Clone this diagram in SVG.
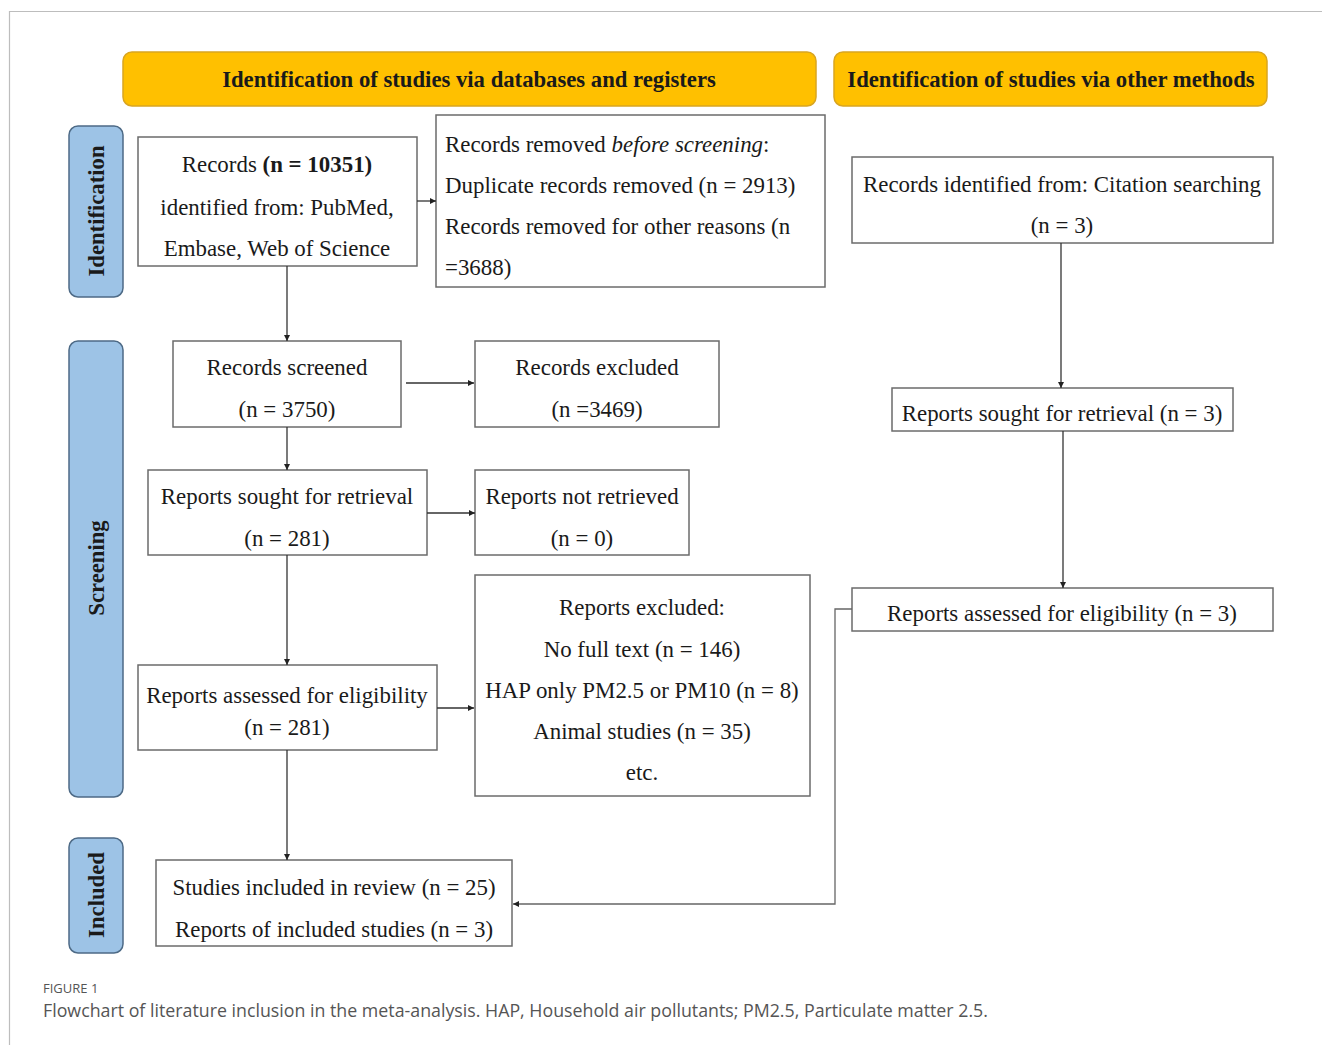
<svg xmlns="http://www.w3.org/2000/svg" width="1322" height="1045" viewBox="0 0 1322 1045">
<defs>
<style>
.bx{fill:#fff;stroke:#6b6b6b;stroke-width:1.5}
.hd{fill:#FFC000;stroke:#D9A520;stroke-width:1.5}
.sd{fill:#9DC3E6;stroke:#4d6a86;stroke-width:1.5}
.t{font-family:"Liberation Serif","Times New Roman",serif;font-size:22.9px;fill:#1a1a1a}
.c{text-anchor:middle}
.hb{font-family:"Liberation Serif","Times New Roman",serif;font-size:22.7px;font-weight:bold;fill:#1a1a1a;text-anchor:middle}
.sb{font-family:"Liberation Serif","Times New Roman",serif;font-size:22.7px;font-weight:bold;fill:#1a1a1a;text-anchor:middle}
.ln{fill:none;stroke:#333;stroke-width:1.3;marker-end:url(#ah)}
.cap{font-family:"Open Sans","Noto Sans",sans-serif;fill:#555}
</style>
<marker id="ah" viewBox="0 0 10 10" refX="10" refY="5" markerWidth="6" markerHeight="6" markerUnits="userSpaceOnUse" orient="auto">
<path d="M0,0 L10,5 L0,10 z" fill="#222"/>
</marker>
</defs>
<rect width="1322" height="1045" fill="#fff"/>
<path d="M1322,11.5 H9.5 V1045" fill="none" stroke="#bdbdbd" stroke-width="1.2"/>

<g id="hdr-db"><rect class="hd" x="123" y="52" width="693" height="54" rx="9"/><text class="hb" x="469" y="87">Identification of studies via databases and registers</text></g>
<g id="hdr-other"><rect class="hd" x="834" y="52" width="433" height="54" rx="9"/><text class="hb" x="1051" y="87">Identification of studies via other methods</text></g>

<g id="side-identification"><rect class="sd" x="69" y="126" width="54" height="171" rx="9"/><text class="sb" transform="translate(104,211) rotate(-90)">Identification</text></g>
<g id="side-screening"><rect class="sd" x="69" y="341" width="54" height="456" rx="9"/><text class="sb" transform="translate(104,568) rotate(-90)">Screening</text></g>
<g id="side-included"><rect class="sd" x="69" y="838" width="54" height="115" rx="9"/><text class="sb" transform="translate(104,895) rotate(-90)">Included</text></g>

<g id="records-identified"><rect class="bx" x="138" y="137" width="279" height="129"/>
<text class="t c" x="277" y="172">Records <tspan font-weight="bold">(n = 10351)</tspan></text>
<text class="t c" x="277" y="215">identified from: PubMed,</text>
<text class="t c" x="277" y="256">Embase, Web of Science</text></g>

<g id="records-removed"><rect class="bx" x="436" y="115" width="389" height="172"/>
<text class="t" x="445" y="152">Records removed <tspan font-style="italic">before screening</tspan>:</text>
<text class="t" x="445" y="193">Duplicate records removed (n = 2913)</text>
<text class="t" x="445" y="234">Records removed for other reasons (n</text>
<text class="t" x="445" y="275">=3688)</text></g>

<g id="citation-searching"><rect class="bx" x="852" y="157" width="421" height="86"/>
<text class="t c" x="1062" y="192">Records identified from: Citation searching</text>
<text class="t c" x="1062" y="233">(n = 3)</text></g>

<g id="records-screened"><rect class="bx" x="173" y="341" width="228" height="86"/>
<text class="t c" x="287" y="375">Records screened</text>
<text class="t c" x="287" y="417">(n = 3750)</text></g>

<g id="records-excluded"><rect class="bx" x="475" y="341" width="244" height="86"/>
<text class="t c" x="597" y="375">Records excluded</text>
<text class="t c" x="597" y="417">(n =3469)</text></g>

<g id="reports-sought"><rect class="bx" x="148" y="470" width="279" height="85"/>
<text class="t c" x="287" y="504">Reports sought for retrieval</text>
<text class="t c" x="287" y="546">(n = 281)</text></g>

<g id="reports-not-retrieved"><rect class="bx" x="475" y="470" width="214" height="85"/>
<text class="t c" x="582" y="504">Reports not retrieved</text>
<text class="t c" x="582" y="546">(n = 0)</text></g>

<g id="reports-excluded"><rect class="bx" x="475" y="575" width="335" height="221"/>
<text class="t c" x="642" y="615">Reports excluded:</text>
<text class="t c" x="642" y="657">No full text (n = 146)</text>
<text class="t c" x="642" y="698">HAP only PM2.5 or PM10 (n = 8)</text>
<text class="t c" x="642" y="739">Animal studies (n = 35)</text>
<text class="t c" x="642" y="780">etc.</text></g>

<g id="reports-assessed"><rect class="bx" x="138" y="665" width="299" height="85"/>
<text class="t c" x="287" y="703">Reports assessed for eligibility</text>
<text class="t c" x="287" y="735">(n = 281)</text></g>

<g id="included"><rect class="bx" x="156" y="860" width="356" height="86"/>
<text class="t c" x="334" y="895">Studies included in review (n = 25)</text>
<text class="t c" x="334" y="937">Reports of included studies (n = 3)</text></g>

<g id="other-sought"><rect class="bx" x="892" y="388" width="341" height="43"/>
<text class="t c" x="1062" y="421">Reports sought for retrieval (n = 3)</text></g>

<g id="other-assessed"><rect class="bx" x="852" y="588" width="421" height="43"/>
<text class="t c" x="1062" y="621">Reports assessed for eligibility  (n = 3)</text></g>

<g id="connectors">
<path class="ln" d="M417,201 H436"/>
<path class="ln" d="M287,266 V341"/>
<path class="ln" d="M406,383 H474"/>
<path class="ln" d="M287,427 V470"/>
<path class="ln" d="M427,513 H475"/>
<path class="ln" d="M287,555 V665"/>
<path class="ln" d="M437,708 H474"/>
<path class="ln" d="M287,750 V860"/>
<path class="ln" d="M1061,243 V388"/>
<path class="ln" d="M1063,431 V588"/>
<path class="ln" style="stroke:#666" d="M852,609 H835 V904 H513"/>
</g>

<text class="cap" x="43" y="993" font-size="13">FIGURE 1</text>
<text class="cap" x="43" y="1017" font-size="17.8">Flowchart of literature inclusion in the meta-analysis. HAP, Household air pollutants; PM2.5, Particulate matter 2.5.</text>
</svg>
